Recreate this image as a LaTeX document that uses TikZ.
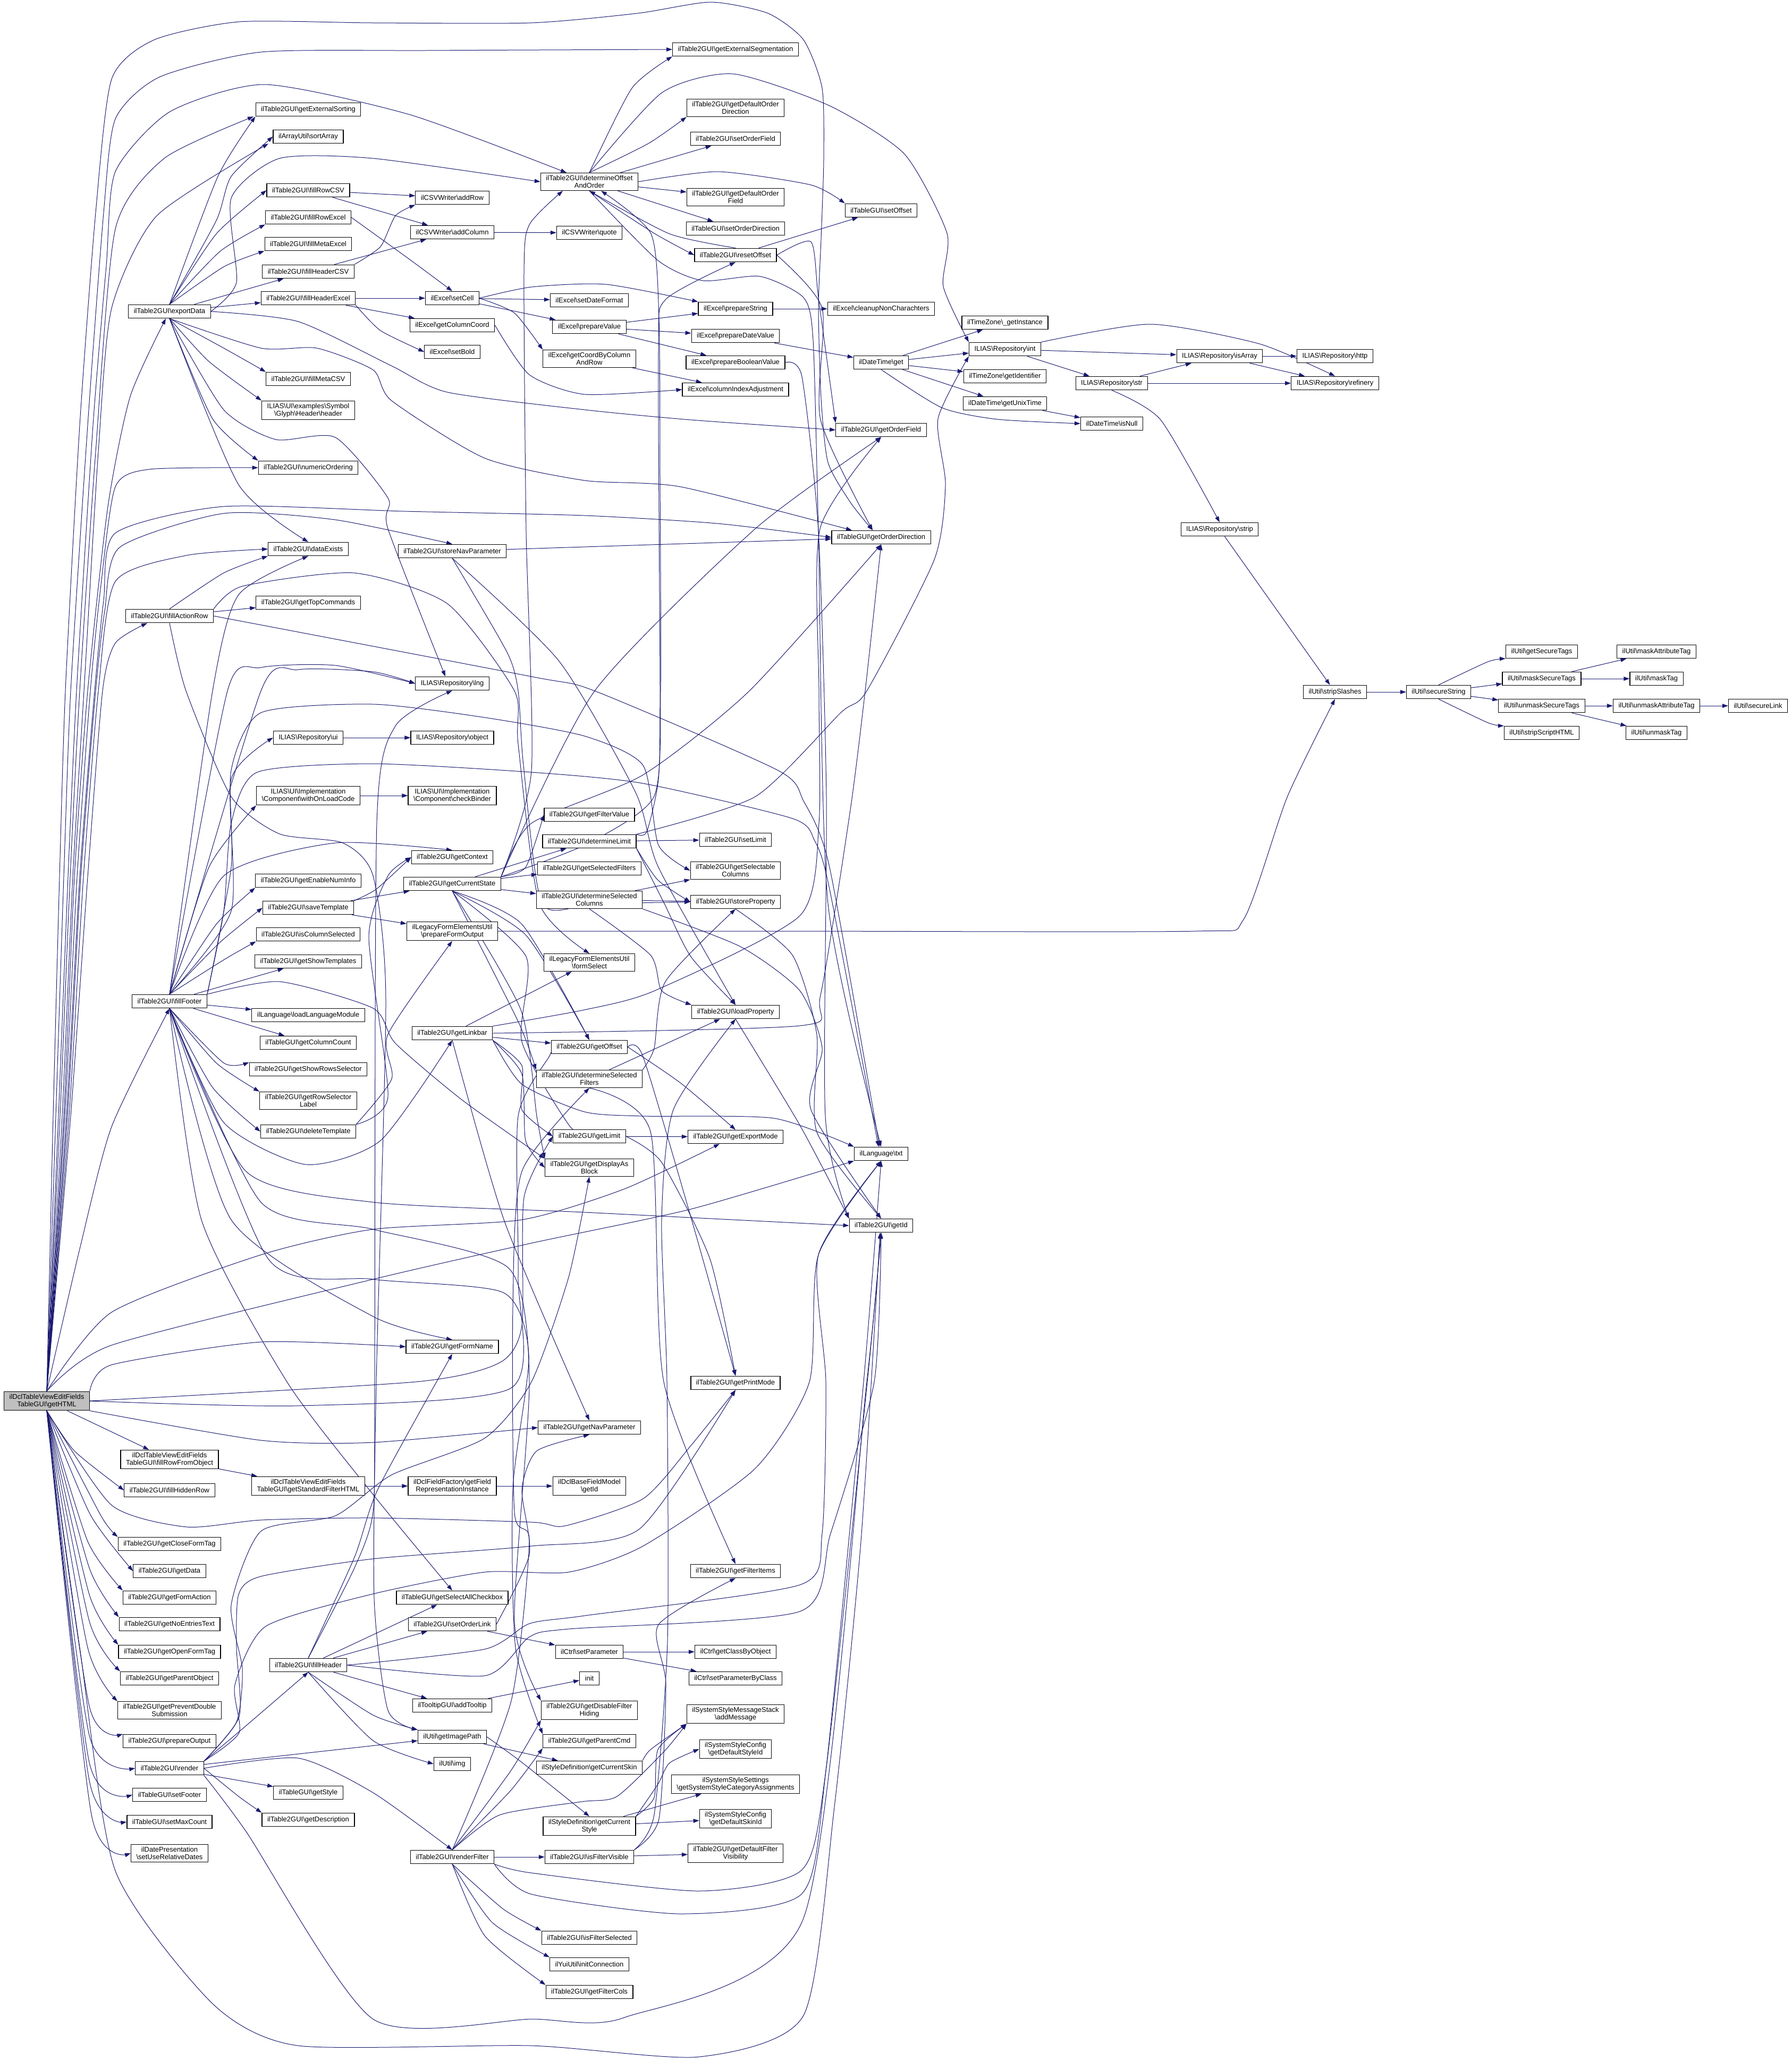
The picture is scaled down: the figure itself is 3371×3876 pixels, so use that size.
\documentclass[tikz,border=0pt]{standalone}
\usepackage{fontspec}
\setmainfont{Liberation Sans}
\usetikzlibrary{arrows.meta,backgrounds}
\definecolor{edgeblue}{HTML}{191970}
\newcommand{\bs}{\textbackslash}
% curved connector through way points
\newcommand{\link}[1]{\draw[edge] plot[smooth,tension=.4] coordinates {#1};}

\begin{document}
\begin{tikzpicture}[x=1pt,y=-1pt,
    box/.style={draw=black,fill=white,line width=1.2pt,align=center,inner xsep=10pt,inner ysep=4.5pt,
                minimum height=25.5pt,font=\fontsize{13}{14.5}\selectfont},
    edge/.style={draw=edgeblue,line width=1pt,-{Triangle[length=11pt,width=7.5pt]}}]
\useasboundingbox (0,0) rectangle (3371,3876);

% nodes
\foreach \nm/\xx/\yy/\txt in {
    rowFromObject/319/2746/{ilDclTableViewEditFields\\TableGUI\bs fillRowFromObject},
    fillHiddenRow/319/2804/{ilTable2GUI\bs fillHiddenRow},
    closeFormTag/319/2905/{ilTable2GUI\bs getCloseFormTag},
    getData/319/2956/{ilTable2GUI\bs getData},
    getFormAction/319/3006/{ilTable2GUI\bs getFormAction},
    noEntriesText/319/3056/{ilTable2GUI\bs getNoEntriesText},
    openFormTag/319/3108/{ilTable2GUI\bs getOpenFormTag},
    parentObject/319/3158/{ilTable2GUI\bs getParentObject},
    preventDouble/319/3218/{ilTable2GUI\bs getPreventDouble\\Submission},
    prepareOutput/319/3276/{ilTable2GUI\bs prepareOutput},
    render/319/3327/{ilTable2GUI\bs render},
    setFooter/319/3377/{ilTableGUI\bs setFooter},
    setMaxCount/319/3428/{ilTableGUI\bs setMaxCount},
    relativeDates/319/3487/{ilDatePresentation\\\bs setUseRelativeDates},
    exportData/319/586/{ilTable2GUI\bs exportData},
    fillActionRow/319/1159/{ilTable2GUI\bs fillActionRow},
    fillFooter/319/1884/{ilTable2GUI\bs fillFooter},
    extSorting/580/206/{ilTable2GUI\bs getExternalSorting},
    sortArray/580/257/{ilArrayUtil\bs sortArray},
    fillRowCSV/580/358/{ilTable2GUI\bs fillRowCSV},
    fillRowExcel/580/409/{ilTable2GUI\bs fillRowExcel},
    fillMetaExcel/580/459/{ilTable2GUI\bs fillMetaExcel},
    fillHeaderCSV/580/511/{ilTable2GUI\bs fillHeaderCSV},
    fillHeaderExcel/580/561/{ilTable2GUI\bs fillHeaderExcel},
    fillMetaCSV/580/713/{ilTable2GUI\bs fillMetaCSV},
    glyphHeader/580/772/{ILIAS\bs UI\bs examples\bs Symbol\\\bs Glyph\bs Header\bs header},
    numericOrdering/580/880/{ilTable2GUI\bs numericOrdering},
    dataExists/580/1033/{ilTable2GUI\bs dataExists},
    getTopCommands/580/1134/{ilTable2GUI\bs getTopCommands},
    ui/580/1388/{ILIAS\bs Repository\bs ui},
    withOnLoad/580/1497/{ILIAS\bs UI\bs Implementation\\\bs Component\bs withOnLoadCode},
    enableNumInfo/580/1657/{ilTable2GUI\bs getEnableNumInfo},
    saveTemplate/580/1708/{ilTable2GUI\bs saveTemplate},
    isColumnSelected/580/1758/{ilTable2GUI\bs isColumnSelected},
    getShowTemplates/580/1809/{ilTable2GUI\bs getShowTemplates},
    loadLanguage/580/1910/{ilLanguage\bs loadLanguageModule},
    getColumnCount/580/1962/{ilTableGUI\bs getColumnCount},
    showRowsSelector/580/2012/{ilTable2GUI\bs getShowRowsSelector},
    rowSelectorLabel/580/2071/{ilTable2GUI\bs getRowSelector\\Label},
    deleteTemplate/580/2129/{ilTable2GUI\bs deleteTemplate},
    standardFilter/580/2796/{ilDclTableViewEditFields\\TableGUI\bs getStandardFilterHTML},
    fillHeader/580/3133/{ilTable2GUI\bs fillHeader},
    getStyle/580/3373/{ilTableGUI\bs getStyle},
    getDescription/580/3424/{ilTable2GUI\bs getDescription},
    addRow/851/372/{ilCSVWriter\bs addRow},
    addColumn/851/437/{ilCSVWriter\bs addColumn},
    setCell/851/561/{ilExcel\bs setCell},
    getColumnCoord/851/612/{ilExcel\bs getColumnCoord},
    setBold/851/662/{ilExcel\bs setBold},
    storeNavParameter/851/1037/{ilTable2GUI\bs storeNavParameter},
    lng/851/1286/{ILIAS\bs Repository\bs lng},
    object/851/1388/{ILIAS\bs Repository\bs object},
    checkBinder/851/1497/{ILIAS\bs UI\bs Implementation\\\bs Component\bs checkBinder},
    getContext/851/1613/{ilTable2GUI\bs getContext},
    getCurrentState/851/1663/{ilTable2GUI\bs getCurrentState},
    prepareFormOutput/851/1752/{ilLegacyFormElementsUtil\\\bs prepareFormOutput},
    getLinkbar/851/1944/{ilTable2GUI\bs getLinkbar},
    getFormName/851/2534/{ilTable2GUI\bs getFormName},
    fieldRep/851/2796/{ilDclFieldFactory\bs getField\\RepresentationInstance},
    selectAll/851/3006/{ilTableGUI\bs getSelectAllCheckbox},
    setOrderLink/851/3056/{ilTable2GUI\bs setOrderLink},
    addTooltip/851/3209/{ilTooltipGUI\bs addTooltip},
    getImagePath/851/3268/{ilUtil\bs getImagePath},
    img/851/3319/{ilUtil\bs img},
    renderFilter/851/3494/{ilTable2GUI\bs renderFilter},
    determineOffset/1109/342/{ilTable2GUI\bs determineOffset\\AndOrder},
    quote/1109/438/{ilCSVWriter\bs quote},
    setDateFormat/1109/565/{ilExcel\bs setDateFormat},
    prepareValue/1109/615/{ilExcel\bs prepareValue},
    getCoord/1109/675/{ilExcel\bs getCoordByColumn\\AndRow},
    getFilterValue/1109/1533/{ilTable2GUI\bs getFilterValue},
    determineLimit/1109/1583/{ilTable2GUI\bs determineLimit},
    getSelectedFilters/1109/1634/{ilTable2GUI\bs getSelectedFilters},
    detSelColumns/1109/1693/{ilTable2GUI\bs determineSelected\\Columns},
    formSelect/1109/1811/{ilLegacyFormElementsUtil\\\bs formSelect},
    getOffset/1109/1970/{ilTable2GUI\bs getOffset},
    detSelFilters/1109/2030/{ilTable2GUI\bs determineSelected\\Filters},
    getLimit/1109/2138/{ilTable2GUI\bs getLimit},
    displayAsBlock/1109/2197/{ilTable2GUI\bs getDisplayAs\\Block},
    getNavParameter/1109/2686/{ilTable2GUI\bs getNavParameter},
    dclGetId/1109/2796/{ilDclBaseFieldModel\\\bs getId},
    setParameter/1109/3108/{ilCtrl\bs setParameter},
    init/1109/3158/{init},
    disableFilter/1109/3218/{ilTable2GUI\bs getDisableFilter\\Hiding},
    getParentCmd/1109/3276/{ilTable2GUI\bs getParentCmd},
    getCurrentSkin/1109/3326/{ilStyleDefinition\bs getCurrentSkin},
    currentStyle/1109/3436/{ilStyleDefinition\bs getCurrent\\Style},
    isFilterVisible/1109/3494/{ilTable2GUI\bs isFilterVisible},
    isFilterSelected/1109/3646/{ilTable2GUI\bs isFilterSelected},
    initConnection/1109/3696/{ilYuiUtil\bs initConnection},
    getFilterCols/1109/3748/{ilTable2GUI\bs getFilterCols},
    extSegmentation/1384/93/{ilTable2GUI\bs getExternalSegmentation},
    defaultOrderDir/1384/203/{ilTable2GUI\bs getDefaultOrder\\Direction},
    setOrderField/1384/261/{ilTable2GUI\bs setOrderField},
    defaultOrderField/1384/371/{ilTable2GUI\bs getDefaultOrder\\Field},
    setOrderDirection/1384/430/{ilTableGUI\bs setOrderDirection},
    resetOffset/1384/480/{ilTable2GUI\bs resetOffset},
    prepareString/1384/581/{ilExcel\bs prepareString},
    prepareDateValue/1384/632/{ilExcel\bs prepareDateValue},
    prepareBooleanValue/1384/682/{ilExcel\bs prepareBooleanValue},
    columnIndex/1384/733/{ilExcel\bs columnIndexAdjustment},
    setLimit/1384/1580/{ilTable2GUI\bs setLimit},
    getSelectable/1384/1638/{ilTable2GUI\bs getSelectable\\Columns},
    storeProperty/1384/1697/{ilTable2GUI\bs storeProperty},
    loadProperty/1384/1904/{ilTable2GUI\bs loadProperty},
    getExportMode/1384/2139/{ilTable2GUI\bs getExportMode},
    getPrintMode/1384/2602/{ilTable2GUI\bs getPrintMode},
    getFilterItems/1384/2956/{ilTable2GUI\bs getFilterItems},
    classByObject/1384/3108/{ilCtrl\bs getClassByObject},
    parameterByClass/1384/3158/{ilCtrl\bs setParameterByClass},
    addMessage/1384/3225/{ilSystemStyleMessageStack\\\bs addMessage},
    defaultStyleId/1384/3291/{ilSystemStyleConfig\\\bs getDefaultStyleId},
    styleCategory/1384/3357/{ilSystemStyleSettings\\\bs getSystemStyleCategoryAssignments},
    defaultSkinId/1384/3422/{ilSystemStyleConfig\\\bs getDefaultSkinId},
    defaultFilterVis/1384/3487/{ilTable2GUI\bs getDefaultFilter\\Visibility},
    setOffset/1658/396/{ilTableGUI\bs setOffset},
    cleanupNon/1658/581/{ilExcel\bs cleanupNonCharachters},
    get/1658/682/{ilDateTime\bs get},
    getOrderField/1658/809/{ilTable2GUI\bs getOrderField},
    getOrderDirection/1658/1011/{ilTableGUI\bs getOrderDirection},
    txt/1658/2171/{ilLanguage\bs txt},
    getId/1658/2306/{ilTable2GUI\bs getId},
    getInstance/1891/607/{ilTimeZone\bs \_getInstance},
    int/1891/657/{ILIAS\bs Repository\bs int},
    getIdentifier/1891/708/{ilTimeZone\bs getIdentifier},
    getUnixTime/1891/759/{ilDateTime\bs getUnixTime},
    str/2092/721/{ILIAS\bs Repository\bs str},
    isNull/2092/797/{ilDateTime\bs isNull},
    isArray/2295/670/{ILIAS\bs Repository\bs isArray},
    strip/2295/996/{ILIAS\bs Repository\bs strip},
    http/2512/670/{ILIAS\bs Repository\bs http},
    refinery/2512/721/{ILIAS\bs Repository\bs refinery},
    stripSlashes/2512/1302/{ilUtil\bs stripSlashes},
    secureString/2707/1302/{ilUtil\bs secureString},
    getSecureTags/2901/1226/{ilUtil\bs getSecureTags},
    maskSecure/2901/1277/{ilUtil\bs maskSecureTags},
    unmaskSecure/2901/1328/{ilUtil\bs unmaskSecureTags},
    stripScript/2901/1379/{ilUtil\bs stripScriptHTML},
    maskAttribute/3117/1226/{ilUtil\bs maskAttributeTag},
    maskTag/3117/1277/{ilUtil\bs maskTag},
    unmaskAttribute/3117/1328/{ilUtil\bs unmaskAttributeTag},
    unmaskTag/3117/1379/{ilUtil\bs unmaskTag},
    secureLink/3308/1328/{ilUtil\bs secureLink}}
    \node[box] (\nm) at (\xx,\yy) {\txt};
\node[box,fill=black!25] (gHTML) at (88,2636) {ilDclTableViewEditFields\\TableGUI\bs getHTML};

\begin{scope}[on background layer]
% edges between near neighbours
\foreach \src/\dst in {fillRowCSV/addRow,fillRowCSV/addColumn,fillHeaderCSV/addColumn,fillHeaderExcel/setCell,
    fillHeaderExcel/getColumnCoord,addColumn/quote,setCell/setDateFormat,setCell/prepareValue,
    prepareValue/prepareString,prepareValue/prepareDateValue,prepareValue/prepareBooleanValue,
    prepareString/cleanupNon,prepareDateValue/get,getCoord/columnIndex,exportData/fillHeaderCSV,
    exportData/fillHeaderExcel,fillActionRow/getTopCommands,ui/object,withOnLoad/checkBinder,
    saveTemplate/getCurrentState,saveTemplate/prepareFormOutput,fillFooter/getShowTemplates,
    fillFooter/loadLanguage,fillFooter/getColumnCount,standardFilter/fieldRep,fieldRep/dclGetId,
    rowFromObject/standardFilter,gHTML/rowFromObject,render/getStyle,render/getImagePath,
    fillHeader/selectAll,fillHeader/setOrderLink,fillHeader/addTooltip,setOrderLink/setParameter,
    addTooltip/init,getImagePath/getCurrentSkin,setParameter/classByObject,setParameter/parameterByClass,
    renderFilter/isFilterVisible,isFilterVisible/defaultFilterVis,currentStyle/defaultSkinId,
    currentStyle/styleCategory,getCurrentState/getSelectedFilters,getCurrentState/detSelColumns,
    getCurrentState/determineLimit,determineLimit/setLimit,detSelColumns/getSelectable,detSelColumns/storeProperty,
    getLinkbar/getOffset,getLinkbar/formSelect,getLimit/getExportMode,detSelFilters/loadProperty,
    determineOffset/setOrderField,determineOffset/defaultOrderField,determineOffset/setOrderDirection,
    resetOffset/setOffset,get/getInstance,get/int,get/getIdentifier,get/getUnixTime,getUnixTime/isNull,
    int/isArray,int/str,str/isArray,str/refinery,isArray/http,isArray/refinery,strip/stripSlashes,
    stripSlashes/secureString,secureString/maskSecure,secureString/unmaskSecure,maskSecure/maskTag,
    maskSecure/maskAttribute,unmaskSecure/unmaskAttribute,unmaskSecure/unmaskTag,unmaskAttribute/secureLink,
    storeNavParameter/getOrderDirection}
    \draw[edge] (\src) -- (\dst);

% from the root, upwards
\link{(gHTML.north) (100,2100) (112,1650) (123,1300) (150,800) (180,400) (210,149) (290,75) (450,41) (700,43) (1000,43) (1200,25) (1337,4) (1445,25) (1512,75) (1547,166) (1550,300) (1545,450) (1540,580) (1545,750) (1558,870) (1600,945) ([xshift=-16pt]getOrderDirection.north)}
\link{(gHTML.north) (105,2100) (120,1650) (133,1300) (165,800) (195,400) (217,224) (300,145) (491,98) (800,95) (extSegmentation.west)}
\link{(gHTML.north) (110,2100) (128,1650) (144,1300) (175,800) (200,500) (217,323) (320,210) (498,159) (772,216) ([xshift=-43pt]determineOffset.north)}
\link{(gHTML.north) (113,2100) (132,1650) (150,1300) (180,850) (217,431) (309,298) ([xshift=-103pt]extSorting.south)}
\link{(gHTML.north) (117,2100) (137,1650) (158,1300) (185,850) (210,580) (295,406) ([xshift=-75pt]sortArray.south)}
\link{(gHTML.north) (120,2100) (140,1650) (165,1300) (203,953) (245,746) ([xshift=-7pt]exportData.south)}
\link{(gHTML.north) (122,2100) (145,1650) (170,1300) (190,1100) (217,916) (281,883) (numericOrdering.west)}
\link{(gHTML.north) (125,2100) (150,1650) (178,1300) (195,1130) (217,1003) (421,953) (760,962) (1100,970) (1350,985) (getOrderDirection.west)}
\link{(gHTML.north) (127,2100) (152,1650) (180,1300) (197,1150) (225,1030) (421,966) (631,978) (storeNavParameter.north)}
\link{(gHTML.north) (130,2100) (157,1650) (185,1300) (217,1094) (351,1045) (dataExists.west)}
\link{(gHTML.north) (133,2100) (165,1650) (193,1300) (217,1210) ([xshift=-42pt]fillActionRow.south)}
\link{(gHTML.north) (150,2350) (210,2120) (fillFooter.south)}
\link{(gHTML.north east) (210,2568) (491,2525) (getFormName.west)}
\link{(gHTML.north) (210,2469) (491,2361) (702,2313) (982,2295) (1175,2237) ([xshift=-30pt]getExportMode.south)}
\link{(gHTML.north) (210,2531) (702,2407) (1000,2339) (1300,2275) (txt.south west)}
% from the root, to the right
\link{(gHTML.east) (782,2600) (940,2564) (982,2494) (986,2253) (getLimit.west)}
\link{(gHTML.east) (561,2645) (961,2612) (975,2400) (975,2100) (1035,1985) (getOffset.west)}
\link{(gHTML.south east) (491,2710) (702,2714) (getNavParameter.west)}
\link{(gHTML.south) (140,2730) (fillHiddenRow.west)}
\link{(gHTML.south) (210,2832) (351,2873) (491,2860) (702,2856) (1000,2864) (1063,2871) (1210,2820) (1300,2720) (getPrintMode.south)}
\link{(gHTML.south) (190,2852) (closeFormTag.north west)}
\link{(gHTML.south) (170,2850) (getData.west)}
\link{(gHTML.south) (165,2900) (getFormAction.north west)}
\link{(gHTML.south) (168,2950) (noEntriesText.north west)}
\link{(gHTML.south) (168,3000) (openFormTag.north west)}
\link{(gHTML.south) (168,3050) (parentObject.north west)}
\link{(gHTML.south) (165,3100) (preventDouble.north west)}
\link{(gHTML.south) (168,3210) (prepareOutput.north west)}
\link{(gHTML.south) (168,3265) (render.west)}
\link{(gHTML.south) (168,3316) (setFooter.west)}
\link{(gHTML.south) (168,3350) (setMaxCount.west)}
\link{(gHTML.south) (172,3414) (relativeDates.west)}
\link{(gHTML.south) (150,3100) (217,3520) (400,3770) (561,3849) (1000,3849) (1316,3870) (1512,3792) (1570,3400) (1620,2900) ([xshift=-2pt]getId.south)}
% exportData
\link{(exportData.north) (410,332) (extSorting.south west)}
\link{(exportData.north) (407,415) (435,332) (sortArray.west)}
\link{(exportData.east) (445,531) (435,373) (526,298) (702,298) (determineOffset.west)}
\link{(exportData.north) (407,440) (fillRowCSV.west)}
\link{(exportData.north) (414,473) (fillRowExcel.south west)}
\link{(exportData.north) (421,502) (fillMetaExcel.south west)}
\link{(exportData.south) (421,655) (fillMetaCSV.north west)}
\link{(exportData.south) (393,680) (glyphHeader.north west)}
\link{(exportData.south) (400,788) (numericOrdering.north west)}
\link{(exportData.south) (449,912) (dataExists.north)}
\link{(exportData.south) (421,771) (519,827) (631,823) (730,937) (730,995) ([xshift=-13pt]lng.north)}
\link{(exportData.east) (561,605) (736,688) (842,738) (1100,771) (1300,790) (getOrderField.west)}
\link{(exportData.south) (491,655) (596,655) (702,696) (737,754) (912,862) (1100,904) (1281,916) ([xshift=-55pt]getOrderDirection.north)}
% rows, headers
\link{(fillHeaderCSV.north east) (716,464) (744,406) (addRow.south west)}
\link{(fillRowExcel.east) (772,489) (setCell.north)}
\link{(fillHeaderExcel.south east) (716,622) (setBold.west)}
\link{(getColumnCoord.east) (996,705) (1100,742) (columnIndex.west)}
\link{(setCell.east) (1000,540) (1140,535) (prepareString.north west)}
\link{(setCell.east) (968,589) (getCoord.north west)}
\link{(prepareBooleanValue.east) (1509,709) (1540,1000) (1555,1500) (1553,2100) (getId.north west)}
% determineOffsetAndOrder
\link{(determineOffset.north) (1189,166) (extSegmentation.south west)}
\link{(determineOffset.north) (1246,174) (1379,139) (1561,199) (1702,290) (1782,439) (1775,539) (int.north west)}
\link{(determineOffset.north) (1220,270) (defaultOrderDir.south west)}
\link{(determineOffset.east) (1351,323) (1526,348) (setOffset.north west)}
\link{(determineOffset.south) (1231,439) (resetOffset.west)}
\link{(resetOffset.north) (1260,440) (determineOffset.south)}
\link{(determineOffset.south) (1238,490) (1322,528) (1430,520) (1512,560) (1530,640) (1540,1000) (1558,1700) (txt.north)}
\link{(resetOffset.east) (1526,455) (1540,560) (getOrderField.north west)}
\link{(resetOffset.east) (1547,580) (1544,790) ([xshift=-16pt]getOrderDirection.north)}
% lower part of the graph
\link{(determineLimit.north east) (1217,1565) (1239,1466) (1242,1300) (1239,663) (1252,564) (resetOffset.south)}
\link{(getCurrentState.north east) (1000,1450) (990,1000) (986,514) (996,423) ([xshift=-50pt]determineOffset.south)}
\link{(getCurrentState.north east) (1100,1590) (1230,1500) (1243,1300) (1242,900) (1240,600) (1225,440) ([xshift=22pt]determineOffset.south)}
\link{(determineLimit.north east) (1421,1499) (1582,1341) (1631,1300) (1758,1053) (1779,912) (1765,788) (int.south west)}
\link{(determineLimit.south east) (1238,1656) (storeProperty.west)}
\link{(determineLimit.south east) (1250,1700) (1300,1800) (loadProperty.north)}
\link{(detSelColumns.south) (1224,1797) (1245,1864) (loadProperty.north west)}
\link{(detSelColumns.south east) (1393,1781) (1505,1864) (1547,1972) (1526,2088) (getId.north)}
\link{(storeProperty.south) (1491,1797) (1537,1947) (1537,2130) (getId.north)}
\link{(loadProperty.south) (1505,2117) (getId.north west)}
% fillActionRow
\link{(fillActionRow.north) (421,1078) (dataExists.south west)}
\link{(fillActionRow.east) (1000,1273) (1119,1300) (1463,1449) (1512,1507) (1561,1632) ([xshift=-3pt]txt.north)}
\link{(fillActionRow.north east) (456,1103) (666,1078) (842,1136) (968,1300) (975,1400) (1015,1700) (formSelect.north)}
\link{(fillActionRow.south) (350,1300) (435,1499) (526,1569) (645,1586) (702,1648) (726,1880) (708,2600) (704,3007) (730,3218) (getImagePath.north west)}
\link{(storeNavParameter.south) (954,1227) (975,1300) (985,1440) (1020,1700) (1120,1700) (storeProperty.west)}
\link{(storeNavParameter.south) (1052,1244) (1196,1491) (1239,1632) (loadProperty.north)}
% fillFooter
\link{(fillFooter.north) (400,1300) (449,1119) (dataExists.south)}
\link{(fillFooter.north) (428,1300) (491,1256) (631,1252) (lng.west)}
\link{(fillFooter.north) (491,1300) (561,1260) (702,1264) (lng.west)}
\link{(fillFooter.north) (435,1714) (435,1466) (ui.west)}
\link{(fillFooter.north) (393,1632) (withOnLoad.south west)}
\link{(fillFooter.north) (421,1648) (631,1586) (getContext.north)}
\link{(fillFooter.north) (407,1739) (enableNumInfo.south west)}
\link{(fillFooter.north) (414,1773) (saveTemplate.west)}
\link{(fillFooter.north) (421,1806) (isColumnSelected.south west)}
\link{(fillFooter.north east) (435,1632) (435,1449) (491,1341) (702,1325) (912,1350) (1100,1385) (1210,1440) (1239,1590) (getSelectable.west)}
\link{(fillFooter.north east) (421,1715) (435,1549) (484,1453) (702,1437) (1000,1453) (1210,1474) (1491,1540) (1533,1582) (1561,1673) ([xshift=-5pt]txt.north)}
\link{(fillFooter.south) (421,2000) (showRowsSelector.north west)}
\link{(fillFooter.south) (407,2000) (rowSelectorLabel.north west)}
\link{(fillFooter.south) (400,2046) (deleteTemplate.west)}
\link{(fillFooter.south) (421,2112) (575,2191) (716,2146) (getLinkbar.south)}
\link{(fillFooter.south) (463,2204) (702,2262) (1100,2281) (getId.west)}
\link{(fillFooter.south) (491,2262) (702,2313) (957,2386) (996,2600) (968,3050) (disableFilter.north west)}
\link{(fillFooter.south) (505,2369) (702,2407) (947,2432) (995,2550) (965,2800) (970,3100) (getParentCmd.north west)}
\link{(fillFooter.south) (435,2295) (702,2477) (getFormName.north)}
\link{(fillFooter.south) (379,2295) (540,2600) (702,2812) (selectAll.north)}
\link{(fillFooter.north east) (526,1847) (702,1897) (744,1963) (870,2070) (displayAsBlock.north west)}
% templates and form output
\link{(saveTemplate.north east) (708,1673) (getContext.west)}
\link{(deleteTemplate.north east) (730,2063) (694,1764) (730,1648) (getContext.west)}
\link{(deleteTemplate.north east) (737,2030) (730,1946) (prepareFormOutput.south)}
\link{(prepareFormOutput.east) (1500,1752) (2250,1752) (2340,1730) (2422,1500) (stripSlashes.south)}
% getCurrentState
\link{(getCurrentState.north east) (989,1632) (getFilterValue.west)}
\link{(getCurrentState.south) (982,1739) (getOffset.north)}
\link{(getCurrentState.south) (990,1760) (getOffset.north)}
\link{(getCurrentState.south) (990,1800) (982,1960) (1073,2120) (getLimit.north)}
\link{(getCurrentState.south) (975,1922) (detSelFilters.north west)}
\link{(getCurrentState.south) (980,1900) (1010,2100) (displayAsBlock.north west)}
\link{(getCurrentState.north east) (1119,1300) (1421,995) (getOrderField.south)}
\link{(getCurrentState.north east) (1000,1549) (1210,1458) (1410,1300) (getOrderDirection.south)}
% getLinkbar
\link{(getLinkbar.north east) (1100,1900) (1232,1864) (1505,1723) (1541,1549) (1541,1300) (1543,995) (getOrderField.south)}
\link{(getLinkbar.east) (1505,1930) (1544,1872) (1600,1524) (1628,1300) (getOrderDirection.south)}
\link{(getLinkbar.south east) (982,2005) (982,2088) (getLimit.west)}
\link{(getLinkbar.south east) (982,2021) (989,2146) (displayAsBlock.west)}
\link{(getLinkbar.south east) (982,2040) (1100,2092) (1210,2100) (1456,2104) (txt.north west)}
\link{(getLinkbar.south) (950,2300) (getNavParameter.north)}
% offset and filters
\link{(getOffset.east) (1281,2038) (getExportMode.north)}
\link{(getOffset.east) (1210,1988) (1300,2290) (getPrintMode.north)}
\link{(detSelFilters.north east) (1231,1972) (1252,1847) (storeProperty.south)}
\link{(detSelFilters.south) (1224,2129) (1249,2600) (getFilterItems.north)}
\link{(getLimit.east) (1245,2187) (1336,2369) (getPrintMode.north)}
\link{(isFilterVisible.north east) (1231,3414) (1256,3088) (1255,2600) (1245,2295) (1267,2088) (loadProperty.south)}
\link{(isFilterVisible.north east) (1240,3422) (1253,3170) (1239,3057) (getFilterItems.south)}
\link{(renderFilter.north) (962,3200) (996,2900) (968,2845) (965,2460) (982,2204) (detSelFilters.south)}
% render
\link{(render.north east) (449,3259) (fillHeader.south)}
\link{(render.east) (449,3380) (getDescription.north west)}
\link{(render.east) (561,3308) (702,3373) (renderFilter.north)}
\link{(render.north east) (445,3240) (456,3140) (435,3020) (491,2881) (631,2852) (737,2775) (912,2706) (1000,2600) (1070,2403) (displayAsBlock.south)}
\link{(render.north east) (450,3230) (445,3100) (449,3000) (491,2966) (702,2933) (1000,2909) (1203,2877) (getPrintMode.south)}
\link{(render.north east) (450,3260) (442,3170) (500,3060) (702,2999) (912,2958) (1070,2958) (1210,2909) (1421,2763) (1523,2600) (1540,2361) (txt.south)}
\link{(render.south east) (463,3446) (702,3799) (1000,3799) (1175,3796) (1512,3609) (1631,2600) (getId.south)}
% fillHeader
\link{(fillHeader.north) (667,2950) (702,2844) (705,2600) (709,1549) (744,1366) (lng.south)}
\link{(fillHeader.north) (667,2930) (712,2800) (getFormName.south)}
\link{(fillHeader.east) (912,3103) (996,3055) (1100,3040) (1505,2982) (1547,2885) (1554,2600) (1540,2361) (txt.south)}
\link{(fillHeader.east) (912,3153) (996,3080) (1070,3065) (1505,3032) (1563,2885) (1645,2600) (getId.south)}
\link{(fillHeader.south) (702,3227) (getImagePath.north west)}
\link{(fillHeader.south) (702,3275) (img.west)}
% setOrderLink and styles
\link{(setOrderLink.east) (996,2925) (982,2803) (1010,2730) (getNavParameter.south)}
\link{(getImagePath.east) (982,3316) (currentStyle.north)}
% renderFilter
\link{(renderFilter.north) (961,3332) (disableFilter.south west)}
\link{(renderFilter.north) (960,3370) (getParentCmd.south west)}
\link{(renderFilter.north) (940,3415) (1094,3390) (1161,3380) (1250,3295) (addMessage.south west)}
\link{(renderFilter.south east) (1000,3524) (1316,3558) (1508,3519) (1554,3332) (1632,2600) (getId.south)}
\link{(renderFilter.south east) (1000,3564) (1281,3601) (1508,3564) (1554,3332) (1625,2600) (txt.south)}
\link{(renderFilter.south) (947,3592) (isFilterSelected.north west)}
\link{(renderFilter.south) (926,3617) (initConnection.north west)}
\link{(renderFilter.south) (912,3642) (getFilterCols.north west)}
% styles
\link{(currentStyle.north east) (1231,3382) (1238,3292) (addMessage.south west)}
\link{(currentStyle.north east) (1238,3357) (1260,3317) (defaultStyleId.west)}
\link{(getCurrentSkin.north east) (1224,3292) (addMessage.south west)}
% DateTime and repository
\link{(get.south) (1772,767) (1877,789) (isNull.west)}
\link{(int.north east) (2164,610) (2370,647) (refinery.north)}
\link{(str.south) (2184,790) (strip.north)}
\link{(secureString.north) (2800,1245) (getSecureTags.south west)}
\link{(secureString.south) (2800,1360) (stripScript.north west)}
\end{scope}
\end{tikzpicture}
\end{document}
